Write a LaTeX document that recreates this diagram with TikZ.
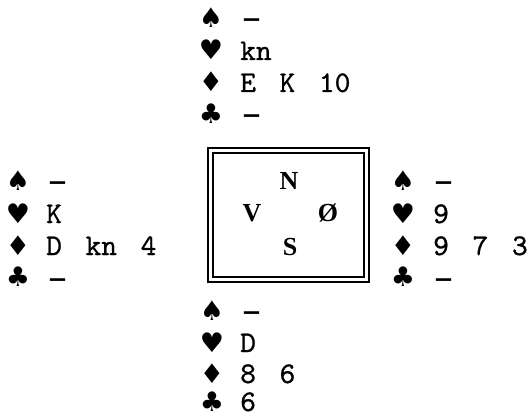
\documentclass[tikz,border=0pt]{standalone}
\usepackage{fontspec}
\newfontfamily\suitfont{DejaVu Sans}
\newfontfamily\seatfont{Liberation Serif}
\newfontfamily\cardfont[FakeBold=0.8,WordSpace=1.5]{lmmono10-regular.otf}
\usetikzlibrary{positioning}
\tikzset{
    suit/.style={inner sep=0pt, anchor=base, font=\suitfont\fontsize{27}{27}\selectfont},
    card/.style={inner sep=0pt, anchor=base west,
        font=\cardfont\fontsize{30}{30}\selectfont},
    void/.style={card, yshift=-3pt, text height=13pt, text depth=0pt,
        font=\suitfont\fontsize{38}{38}\selectfont},
    seat/.style={inner sep=0pt, anchor=base, font=\seatfont\bfseries\fontsize{26}{26}\selectfont},
    frame/.style={draw, line width=1.3pt}
}
\begin{document}
\begin{tikzpicture}[x=1pt, y=-1pt]
    \useasboundingbox (0,0) rectangle (528,417);

    % north
    \node[suit] (ns) at (211,28) {♠};
    \node[suit] (nh) at (211,60) {♥};
    \node[suit] (nd) at (211,92) {♦};
    \node[suit] (nc) at (211,124) {♣};
    \node[void] (nst) at (242,28) {–};
    \node[card] (nht) at (240,60) {kn};
    \node[card] (ndt) at (240,92) {E K 10};
    \node[void] (nct) at (242,124) {–};

    % west
    \node[suit] (ws) at (18,191) {♠};
    \node[suit] (wh) at (18,223) {♥};
    \node[suit] (wd) at (18,255) {♦};
    \node[suit] (wc) at (18,287) {♣};
    \node[void] (wst) at (48,191) {–};
    \node[card] (wht) at (46,223) {K};
    \node[card] (wdt) at (46,255) {D kn 4};
    \node[void] (wct) at (48,287) {–};

    % east
    \node[suit] (es) at (403,191) {♠};
    \node[suit] (eh) at (403,223) {♥};
    \node[suit] (ed) at (403,255) {♦};
    \node[suit] (ec) at (403,287) {♣};
    \node[void] (est) at (434,191) {–};
    \node[card] (eht) at (433,223) {9};
    \node[card] (edt) at (433,255) {9 7 3};
    \node[void] (ect) at (434,287) {–};

    % south
    \node[suit] (ss) at (212,320) {♠};
    \node[suit] (sh) at (212,352) {♥};
    \node[suit] (sd) at (212,383) {♦};
    \node[suit] (sc) at (212,411) {♣};
    \node[void] (sst) at (242,320) {–};
    \node[card] (sht) at (240,352) {D};
    \node[card] (sdt) at (240,383) {8 6};
    \node[card] (sct) at (240,411) {6};

    % table
    \draw[frame] (208,148) rectangle (369,282);
    \draw[frame] (213,153) rectangle (364,277);
    \node[seat] (north) at (289,190) {N};
    \node[seat] (west) at (252,222) {V};
    \node[seat] (east) at (328,222) {Ø};
    \node[seat] (south) at (290,255) {S};
\end{tikzpicture}
\end{document}
